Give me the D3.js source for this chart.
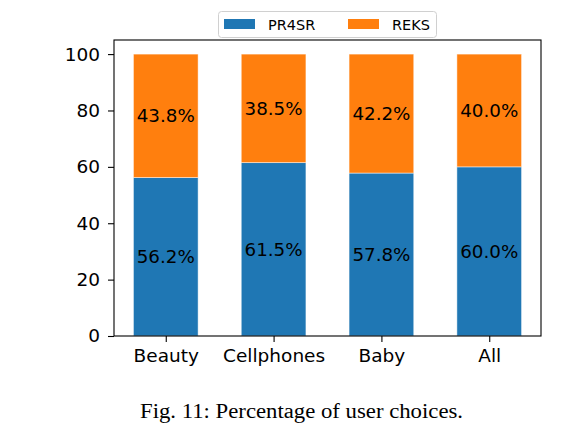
<!DOCTYPE html>
<html>
<head>
<meta charset="utf-8">
<script src="https://cdn.jsdelivr.net/npm/d3@7"></script>
<style>
  html, body { margin: 0; padding: 0; background: #fff; }
  svg { display: block; }
</style>
</head>
<body>
<svg id="chart" width="570" height="428"></svg>
<script>
const categories = ["Beauty", "Cellphones", "Baby", "All"];
const pr4sr = [56.2, 61.5, 57.8, 60.0];
const reks = [43.8, 38.5, 42.2, 40.0];
const seriesNames = ["PR4SR", "REKS"];
const yTicks = [0, 20, 40, 60, 80, 100];
const caption = "Fig. 11: Percentage of user choices.";

const colors = ["#1f77b4", "#ff7f0e"];
const svg = d3.select("#chart");
const m = { left: 114, right: 541, top: 40, bottom: 336 };

const x = d3.scaleLinear().domain([-0.48, 3.48]).range([m.left, m.right]);
const y = d3.scaleLinear().domain([0, 105]).range([m.bottom, m.top]);
const bw = 0.6;

const stacks = categories.map((c, i) => ({ c, i, a: pr4sr[i], b: reks[i] }));

const g = svg.append("g");
const series = [pr4sr, reks];
series.forEach((vals, si) => {
  g.selectAll(".bar" + si).data(stacks).enter().append("rect")
    .attr("x", d => x(d.i - bw / 2))
    .attr("width", d => x(d.i + bw / 2) - x(d.i - bw / 2))
    .attr("y", d => y(si === 0 ? d.a : d.a + d.b))
    .attr("height", d => si === 0 ? y(0) - y(d.a) : y(d.a) - y(d.a + d.b))
    .attr("fill", colors[si])
    .attr("stroke", "rgba(255,255,255,0.6)")
    .attr("stroke-width", 0.8);
  g.selectAll(".lab" + si).data(stacks).enter().append("text")
    .attr("x", d => x(d.i))
    .attr("y", d => si === 0 ? y(d.a / 2) : y(d.a + d.b / 2))
    .attr("text-anchor", "middle")
    .attr("dominant-baseline", "central")
    .attr("font-family", "DejaVu Sans")
    .attr("font-size", 18.3)
    .attr("fill", "#000")
    .text(d => (si === 0 ? d.a : d.b).toFixed(1) + "%");
});

const yAxis = d3.axisLeft(y).tickValues(yTicks).tickSize(6).tickPadding(8);
const xAxis = d3.axisBottom(x).tickValues(categories.map((c, i) => i))
  .tickFormat(i => categories[i]).tickSize(6).tickPadding(7);

const ya = svg.append("g").attr("transform", `translate(${m.left},0)`).call(yAxis);
const xa = svg.append("g").attr("transform", `translate(0,${m.bottom})`).call(xAxis);
[ya, xa].forEach(a => {
  a.select(".domain").remove();
  a.selectAll("text").attr("font-family", "DejaVu Sans").attr("font-size", 18.5).attr("fill", "#000");
  a.selectAll("line").attr("stroke", "#000").attr("stroke-width", 1.1);
});

svg.append("rect").attr("x", m.left).attr("y", m.top)
  .attr("width", m.right - m.left).attr("height", m.bottom - m.top)
  .attr("fill", "none").attr("stroke", "#000").attr("stroke-width", 1.1);

const lg = svg.append("g");
lg.append("rect").attr("x", 218.5).attr("y", 11.5).attr("width", 218).attr("height", 26)
  .attr("rx", 3).attr("fill", "#fff").attr("stroke", "#d0d0d0").attr("stroke-width", 1);
const lx = [224, 348];
seriesNames.forEach((n, i) => {
  lg.append("rect").attr("x", lx[i]).attr("y", 19).attr("width", 31).attr("height", 10).attr("fill", colors[i]);
  lg.append("text").attr("x", lx[i] + 44).attr("y", 24.5).attr("dominant-baseline", "central")
    .attr("font-family", "DejaVu Sans").attr("font-size", 14.5).attr("fill", "#000").text(n);
});

svg.append("text").attr("x", 301.5).attr("y", 418).attr("text-anchor", "middle")
  .attr("font-family", "Liberation Serif").attr("font-size", 20)
  .attr("textLength", 323).attr("lengthAdjust", "spacingAndGlyphs")
  .attr("fill", "#000").text(caption);
</script>
</body>
</html>
